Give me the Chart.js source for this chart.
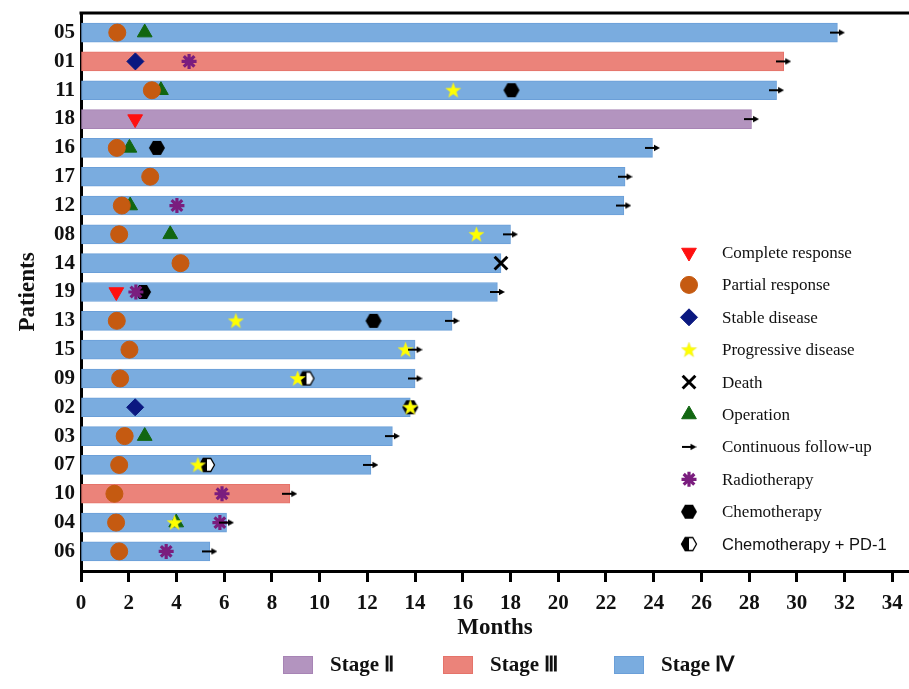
<!DOCTYPE html>
<html>
<head>
<meta charset="utf-8">
<title>Swimmer plot</title>
<script src="https://cdn.jsdelivr.net/npm/chart.js@4/dist/chart.umd.min.js"></script>
<style>
  html, body { margin: 0; padding: 0; background: #ffffff; }
  #wrap { width: 909px; height: 689px; }
</style>
</head>
<body>
<div id="wrap"><canvas id="swimmer" width="909" height="689"></canvas></div>
<script>
// Patients, top to bottom
const patients = ['05','01','11','18','16','17','12','08','14','19','13','15','09','02','03','07','10','04','06'];
// Tumour stage per patient
const stages = ['IV','III','IV','II','IV','IV','IV','IV','IV','IV','IV','IV','IV','IV','IV','IV','III','IV','IV'];
// Follow-up length per patient (months)
const followMonths = [31.7, 29.45, 29.15, 28.1, 23.95, 22.8, 22.75, 18.0, 17.6, 17.45, 15.55, 14.0, 14.0, 13.8, 13.05, 12.15, 8.75, 6.1, 5.4];
// Patients still under follow-up at the end of their bar
const continuingFollowUp = ['05','01','11','18','16','17','12','08','19','13','15','09','03','07','10','04','06'];

// Events: [patient, month]
const completeResponse = [['18', 2.27], ['19', 1.48]];
const partialResponse = [['05', 1.52], ['11', 2.97], ['16', 1.50], ['17', 2.90], ['12', 1.71], ['08', 1.60],
  ['14', 4.17], ['13', 1.50], ['15', 2.03], ['09', 1.64], ['03', 1.83], ['07', 1.60], ['10', 1.40], ['04', 1.47], ['06', 1.60]];
const stableDisease = [['01', 2.28], ['02', 2.27]];
const progressiveDisease = [['11', 15.6], ['08', 16.57], ['13', 6.49], ['15', 13.6], ['09', 9.08], ['02', 13.8], ['07', 4.9], ['04', 3.92]];
const death = [['14', 17.6]];
const operation = [['05', 2.67], ['11', 3.35], ['16', 2.03], ['12', 2.06], ['08', 3.74], ['03', 2.67], ['04', 3.99]];
const radiotherapy = [['01', 4.53], ['12', 4.02], ['19', 2.30], ['10', 5.91], ['04', 5.82], ['06', 3.57]];
const chemotherapy = [['11', 18.04], ['16', 3.18], ['19', 2.6], ['13', 12.26], ['02', 13.8]];
const chemoPD1 = [['09', 9.45], ['07', 5.28]];

// X axis ticks (months)
const monthTicks = [0, 2, 4, 6, 8, 10, 12, 14, 16, 18, 20, 22, 24, 26, 28, 30, 32, 34];

const stageLabels = { II: 'Stage \u2161', III: 'Stage \u2162', IV: 'Stage \u2163' };
const stageFill = { II: '#b394bf', III: '#eb837a', IV: '#7aacdf' };
const stageEdge = { II: '#a784b5', III: '#e5736a', IV: '#6b9fd8' };

const SERIF = "'Liberation Serif','Times New Roman',serif";
const SANS = "'Liberation Sans',Arial,sans-serif";

// ---- custom marker glyphs ----
function glyph(w, h, draw) {
  const c = document.createElement('canvas');
  c.width = w; c.height = h;
  draw(c.getContext('2d'), w, h);
  return c;
}
function hexPath(ctx, cx, cy, r) {
  ctx.beginPath();
  for (let k = 0; k < 6; k++) {
    const a = k * Math.PI / 3;
    const px = cx + r * Math.cos(a), py = cy + r * Math.sin(a);
    if (k === 0) ctx.moveTo(px, py); else ctx.lineTo(px, py);
  }
  ctx.closePath();
}
const starGlyph = glyph(17, 17, (ctx) => {
  ctx.beginPath();
  for (let k = 0; k < 10; k++) {
    const r = k % 2 === 0 ? 8 : 3.3;
    const a = -Math.PI / 2 + k * Math.PI / 5;
    const px = 8.5 + r * Math.cos(a), py = 9 + r * Math.sin(a);
    if (k === 0) ctx.moveTo(px, py); else ctx.lineTo(px, py);
  }
  ctx.closePath();
  ctx.fillStyle = '#ffff00';
  ctx.fill();
  ctx.strokeStyle = 'rgba(230,230,60,0.8)';
  ctx.lineWidth = 0.6;
  ctx.stroke();
});
const hexGlyph = glyph(18, 16, (ctx) => {
  hexPath(ctx, 9, 8, 8);
  ctx.fillStyle = '#000000';
  ctx.fill();
});
const halfHexGlyph = glyph(18, 16, (ctx) => {
  hexPath(ctx, 9, 8, 7.5);
  ctx.fillStyle = '#ffffff';
  ctx.fill();
  ctx.save();
  ctx.clip();
  ctx.fillStyle = '#000000';
  ctx.fillRect(0, 0, 9, 16);
  ctx.restore();
  hexPath(ctx, 9, 8, 7.5);
  ctx.strokeStyle = '#000000';
  ctx.lineWidth = 1.3;
  ctx.stroke();
});
const arrowGlyph = glyph(15, 8, (ctx) => {
  ctx.strokeStyle = '#000000';
  ctx.lineWidth = 2;
  ctx.beginPath();
  ctx.moveTo(0, 4); ctx.lineTo(10, 4);
  ctx.stroke();
  ctx.fillStyle = '#000000';
  ctx.beginPath();
  ctx.moveTo(15, 4); ctx.lineTo(9, 0.8); ctx.lineTo(9, 7.2);
  ctx.closePath();
  ctx.fill();
});

// Marker styles for each event type
const eventStyles = {
  cr:    { label: 'Complete response',   data: completeResponse,   pointStyle: 'triangle', rotation: 180, radius: 8.5, fill: '#ff1010', edge: '#ff1010', bw: 1 },
  pr:    { label: 'Partial response',    data: partialResponse,    pointStyle: 'circle',   rotation: 0,   radius: 8.5, fill: '#c55a11', edge: '#c55a11', bw: 1 },
  sd:    { label: 'Stable disease',      data: stableDisease,      pointStyle: 'rectRot',  rotation: 0,   radius: 8.5, fill: '#0a1880', edge: '#0a1880', bw: 1 },
  pd:    { label: 'Progressive disease', data: progressiveDisease, pointStyle: starGlyph,  rotation: 0,   radius: 8,   fill: '#ffff00', edge: '#ffff00', bw: 0 },
  death: { label: 'Death',               data: death,              pointStyle: 'crossRot', rotation: 0,   radius: 9,   fill: '#000000', edge: '#000000', bw: 3 },
  op:    { label: 'Operation',           data: operation,          pointStyle: 'triangle', rotation: 0,   radius: 8.5, fill: '#116611', edge: '#116611', bw: 1 },
  fu:    { label: 'Continuous follow-up', data: null,              pointStyle: arrowGlyph, rotation: 0,   radius: 8,   fill: '#000000', edge: '#000000', bw: 0 },
  rt:    { label: 'Radiotherapy',        data: radiotherapy,       pointStyle: 'star',     rotation: 0,   radius: 7.5, fill: '#7a1d7e', edge: '#7a1d7e', bw: 3.2 },
  chemo: { label: 'Chemotherapy',        data: chemotherapy,       pointStyle: hexGlyph,   rotation: 0,   radius: 8,   fill: '#000000', edge: '#000000', bw: 0 },
  pd1:   { label: 'Chemotherapy + PD-1', data: chemoPD1,           pointStyle: halfHexGlyph, rotation: 0, radius: 8,   fill: '#000000', edge: '#000000', bw: 0 }
};
// Legend listing order
const legendOrder = ['cr', 'pr', 'sd', 'pd', 'death', 'op', 'fu', 'rt', 'chemo', 'pd1'];
// Drawing order: first listed is painted on top
const paintOrder = ['fu', 'death', 'rt', 'pd', 'sd', 'cr', 'pr', 'pd1', 'chemo', 'op'];

const rowOf = (p) => patients.indexOf(p);
const followUpPoints = continuingFollowUp.map(p => ({ x: followMonths[rowOf(p)], y: rowOf(p) }));

function markerDataset(key) {
  const s = eventStyles[key];
  const pts = key === 'fu' ? followUpPoints : s.data.map(([p, m]) => ({ x: m, y: rowOf(p) }));
  return {
    type: 'scatter',
    label: s.label,
    data: pts,
    pointStyle: s.pointStyle,
    pointRotation: s.rotation,
    pointRadius: s.radius,
    pointBackgroundColor: s.fill,
    pointBorderColor: s.edge,
    pointBorderWidth: s.bw,
    showLine: false
  };
}

const barDataset = {
  type: 'bar',
  label: 'Follow-up',
  data: followMonths.map((m, i) => ({ x: m, y: i })),
  backgroundColor: stages.map(s => stageFill[s]),
  borderColor: stages.map(s => stageEdge[s]),
  borderWidth: 1,
  borderSkipped: false,
  barThickness: 19
};

// Frame line and both legends
const decorPlugin = {
  id: 'decor',
  afterDraw(chart) {
    const { ctx, chartArea: a } = chart;
    ctx.save();
    // top frame
    ctx.strokeStyle = '#000000';
    ctx.lineWidth = 3;
    ctx.beginPath();
    ctx.moveTo(a.left - 1.5, a.top);
    ctx.lineTo(a.right, a.top);
    ctx.stroke();

    // event legend
    const mx = 689, tx = 722, y0 = 252.5, dy = 32.4;
    legendOrder.forEach((key, i) => {
      const s = eventStyles[key];
      const y = y0 + i * dy;
      ctx.fillStyle = s.fill;
      ctx.strokeStyle = s.edge;
      ctx.lineWidth = s.bw;
      if (Chart.helpers && Chart.helpers.drawPoint) {
        Chart.helpers.drawPoint(ctx, { pointStyle: s.pointStyle, rotation: s.rotation, radius: s.radius, borderWidth: s.bw }, mx, y);
      }
      ctx.fillStyle = '#111111';
      ctx.textBaseline = 'middle';
      ctx.textAlign = 'left';
      ctx.font = (key === 'pd1' ? '16.5px ' + SANS : '17px ' + SERIF);
      ctx.fillText(s.label, tx, y + 1);
    });

    // stage legend
    const items = ['II', 'III', 'IV'];
    const boxX = [283, 443, 614];
    ctx.font = 'bold 21px ' + SERIF;
    const boxW = 30, boxH = 18, gapBox = 17;
    const ly = 665;
    items.forEach((k, i) => {
      const x = boxX[i];
      ctx.fillStyle = stageFill[k];
      ctx.fillRect(x, ly - boxH / 2, boxW, boxH);
      ctx.strokeStyle = stageEdge[k];
      ctx.lineWidth = 1;
      ctx.strokeRect(x + 0.5, ly - boxH / 2 + 0.5, boxW - 1, boxH - 1);
      ctx.fillStyle = '#111111';
      ctx.textBaseline = 'middle';
      ctx.textAlign = 'left';
      ctx.fillText(stageLabels[k], x + boxW + gapBox, ly + 1);
    });
    ctx.restore();
  }
};

new Chart(document.getElementById('swimmer'), {
  type: 'bar',
  data: {
    datasets: [...paintOrder.map(markerDataset), barDataset]
  },
  options: {
    indexAxis: 'y',
    responsive: false,
    animation: false,
    events: [],
    layout: { autoPadding: false, padding: { top: 13, right: 0, bottom: 43, left: 0 } },
    plugins: {
      legend: { display: false },
      tooltip: { enabled: false }
    },
    scales: {
      x: {
        type: 'linear',
        position: 'bottom',
        min: 0,
        max: 34.7,
        offset: false,
        afterBuildTicks: (scale) => { scale.ticks = monthTicks.map(v => ({ value: v })); },
        ticks: {
          autoSkip: false,
          maxRotation: 0,
          includeBounds: false,
          padding: 9,
          color: '#111111',
          font: { family: SERIF, size: 21, weight: 'bold' }
        },
        grid: { offset: false, drawOnChartArea: false, drawTicks: true, tickLength: 11, tickWidth: 3, tickColor: '#000000' },
        border: { display: true, width: 3, color: '#000000' },
        title: {
          display: true,
          text: 'Months',
          color: '#111111',
          padding: { top: 0, bottom: 4 },
          font: { family: SERIF, size: 23, weight: 'bold' }
        },
        afterFit: (scale) => {
          scale.height = 75;
          scale.paddingLeft = 0;
          scale.paddingRight = 0;
        }
      },
      y: {
        type: 'linear',
        position: 'left',
        reverse: true,
        min: -0.68,
        max: 18.68,
        offset: false,
        afterBuildTicks: (scale) => { scale.ticks = patients.map((p, i) => ({ value: i })); },
        ticks: {
          autoSkip: false,
          padding: 6,
          color: '#111111',
          font: { family: SERIF, size: 21, weight: 'bold' },
          callback: (v) => patients[v]
        },
        grid: { offset: false, drawOnChartArea: false, drawTicks: false },
        border: { display: true, width: 3, color: '#000000' },
        title: {
          display: true,
          text: 'Patients',
          color: '#111111',
          padding: { top: 14, bottom: 0 },
          font: { family: SERIF, size: 23, weight: 'bold' }
        },
        afterFit: (scale) => {
          scale.width = 81;
          scale.paddingTop = 0;
          scale.paddingBottom = 0;
        }
      }
    }
  },
  plugins: [decorPlugin]
});
</script>
</body>
</html>
